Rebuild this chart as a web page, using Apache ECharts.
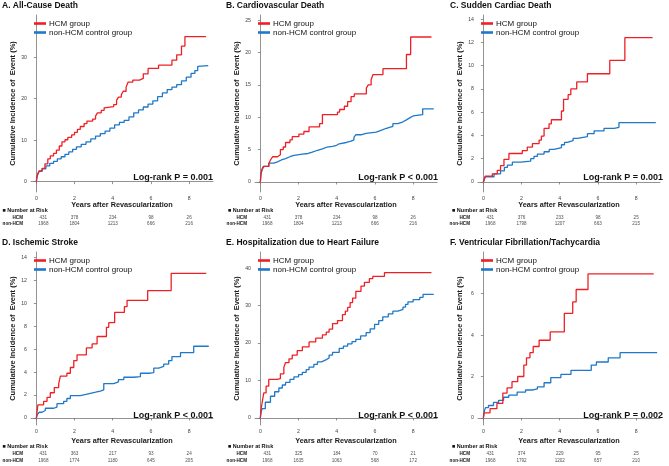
<!DOCTYPE html>
<html>
<head>
<meta charset="utf-8">
<script src="https://cdn.jsdelivr.net/npm/echarts@6/dist/echarts.min.js"></script>
<style>
html,body{margin:0;padding:0;background:#fff}
#main{width:669px;height:466px}
</style>
</head>
<body>
<div id="main"></div>
<script>
// cumulative incidence: [years, %] at each jump
var aHcm = [[0,0],[0.03,1.2],[0.08,2.0],[0.15,2.6],[0.3,3.2],[0.45,4.3],[0.6,5.5],[0.73,6.2],[0.9,6.8],[1.05,7.6],[1.2,8.6],[1.34,9.6],[1.5,10.1],[1.65,10.7],[1.85,11.3],[2.0,11.9],[2.15,12.6],[2.3,13.3],[2.5,14],[2.65,14.6],[2.95,15.1],[3.1,15.8],[3.2,16.6],[3.4,17.2],[3.55,17.8],[3.65,18.1],[4.05,18.6],[4.2,19.6],[4.3,20.4],[4.45,21],[4.55,21.8],[4.7,22.8],[4.8,24],[5.05,24.5],[5.4,24.9],[5.6,26],[5.85,27.3],[6.4,28.1],[7.1,29.3],[7.35,30.6],[7.6,32.7],[7.78,35],[8.88,35]];
var aCtl = [[0,0],[0.03,1],[0.08,1.8],[0.15,2.5],[0.3,3.1],[0.5,3.8],[0.7,4.4],[0.9,4.9],[1.1,5.5],[1.3,6],[1.5,6.6],[1.7,7.2],[1.9,7.8],[2.1,8.4],[2.35,9],[2.6,9.6],[2.85,10.3],[3.1,11],[3.35,11.6],[3.6,12.2],[3.85,12.9],[4.1,13.7],[4.35,14.3],[4.6,14.8],[4.85,15.6],[5.1,16.6],[5.35,17.3],[5.6,18],[5.85,18.7],[6.1,19.5],[6.35,20.5],[6.6,21.4],[6.85,22.2],[7.1,22.8],[7.35,23.4],[7.6,24.3],[7.85,25.2],[8.1,26.1],[8.3,26.8],[8.45,27.8],[8.55,28],[9.0,28]];
var bHcm = [[0,0],[0.03,1.2],[0.08,1.9],[0.15,2.4],[0.45,2.9],[0.55,3.5],[0.65,3.9],[0.9,4.2],[1.05,5.0],[1.2,5.4],[1.32,6.1],[1.55,6.5],[1.67,7.0],[2.02,7.4],[2.28,7.8],[2.55,8.5],[3.1,9.0],[3.25,10.4],[4.04,10.8],[4.15,11.2],[4.4,11.7],[4.57,12.4],[4.75,13.2],[4.92,13.6],[5.55,14.5],[5.65,15],[5.8,15.8],[5.9,16.6],[6.42,17.5],[7.65,19.7],[7.87,22.4],[8.96,22.4]];
var bCtl = [[0,0],[0.03,1.2],[0.1,2],[0.2,2.4],[0.44,2.9],[0.7,3.1],[0.9,3.4],[1.1,3.6],[1.32,3.9],[1.55,4.1],[1.76,4.3],[2.2,4.4],[2.5,4.6],[2.72,4.9],[3.0,5.1],[3.25,5.4],[3.5,5.5],[3.78,5.6],[3.95,5.9],[4.13,6.1],[4.5,6.3],[4.75,6.5],[4.9,6.9],[5.0,7.3],[5.3,7.5],[5.54,7.7],[6.07,8.0],[6.35,8.3],[6.6,8.6],[6.94,9.0],[7.2,9.3],[7.47,9.6],[7.65,9.9],[7.82,10.2],[8.0,10.4],[8.5,11.3],[9.08,11.3]];
var cHcm = [[0,0],[0.1,0.5],[0.47,0.7],[0.73,1.0],[0.9,1.4],[1.08,1.95],[1.34,2.45],[2.04,2.7],[2.3,3.0],[2.57,3.3],[2.92,3.6],[3.04,3.95],[3.18,4.6],[3.44,5.0],[3.56,5.35],[4.09,6.1],[4.2,7.1],[4.44,7.5],[4.58,8.0],[4.89,8.6],[5.45,9.3],[6.62,10.45],[7.41,12.4],[8.86,12.4]];
var cCtl = [[0,0],[0.1,0.45],[0.56,0.7],[0.9,0.95],[1.1,1.25],[1.26,1.45],[1.52,1.7],[1.96,1.8],[2.48,2.0],[2.65,2.2],[2.83,2.4],[3.18,2.6],[3.45,2.8],[3.7,2.95],[4.09,3.2],[4.25,3.4],[4.4,3.55],[4.7,3.75],[4.93,3.9],[5.45,4.15],[5.8,4.4],[6.32,4.6],[6.85,4.7],[7.1,5.1],[9.03,5.1]];
var dHcm = [[0,0],[0.08,1.15],[0.38,1.45],[0.56,1.8],[0.73,2.2],[0.94,2.65],[1.17,3.0],[1.26,3.65],[1.6,3.9],[1.78,4.4],[1.96,5.0],[2.13,5.5],[2.62,6.1],[2.92,6.45],[3.18,7.1],[3.67,7.9],[3.79,8.3],[4.1,9.2],[4.61,9.7],[4.75,10.25],[5.83,11.1],[7.06,12.6],[8.9,12.6]];
var dCtl = [[0,0],[0.05,0.3],[0.15,0.5],[0.3,0.65],[0.47,0.85],[0.91,0.95],[1.08,1.25],[1.43,1.45],[1.6,1.7],[1.78,1.95],[2.3,2.05],[2.6,2.15],[2.83,2.25],[3.1,2.35],[3.35,2.45],[3.53,3.0],[4.05,3.15],[4.3,3.35],[4.58,3.55],[5.1,3.6],[5.45,3.9],[5.97,3.95],[6.15,4.35],[6.41,4.5],[6.67,4.7],[6.93,5.0],[7.1,5.35],[7.55,5.7],[8.24,6.25],[9.03,6.25]];
var eHcm = [[0,0],[0.03,2],[0.09,4],[0.18,6.7],[0.3,8.5],[0.44,10.3],[0.88,10.5],[1.05,11.8],[1.23,13.5],[1.32,14.8],[1.5,15.8],[1.67,16.8],[1.93,18],[2.2,19],[2.55,20.3],[2.9,21.3],[3.25,22.2],[3.45,22.9],[3.6,23.7],[3.78,25.2],[4.04,26],[4.3,27.6],[4.45,28.5],[4.57,29.5],[4.7,30.8],[4.83,32],[5.0,33.8],[5.27,35.2],[5.45,36.2],[5.71,37.2],[5.89,37.8],[6.5,38.8],[8.96,38.8]];
var eCtl = [[0,0],[0.03,1.3],[0.09,2.5],[0.26,4.2],[0.53,5.8],[0.75,7],[0.97,8],[1.15,8.8],[1.32,9.5],[1.55,10.3],[1.76,11],[2.0,11.6],[2.2,12.2],[2.4,12.9],[2.55,13.6],[2.8,14.3],[2.99,15],[3.2,15.5],[3.43,16],[3.6,16.8],[3.78,17.5],[4.13,18.6],[4.35,19.2],[4.57,19.8],[4.8,20.4],[5.0,21],[5.25,21.9],[5.54,22.8],[5.75,23.8],[5.98,25],[6.2,26],[6.41,27],[6.7,27.8],[6.94,28.5],[7.2,29],[7.47,29.6],[7.6,30.3],[7.73,31],[8.0,31.6],[8.35,32.2],[8.52,33],[9.08,33]];
var fHcm = [[0,0],[0.04,0.25],[0.35,0.45],[0.71,0.7],[1.02,1.2],[1.24,1.45],[1.5,1.75],[1.8,2.0],[2.12,2.55],[2.26,2.9],[2.44,3.15],[2.61,3.45],[2.92,3.75],[3.5,4.15],[4.24,5.05],[4.68,5.6],[4.86,6.2],[5.48,6.95],[8.92,6.95]];
var fCtl = [[0,0],[0.03,0.2],[0.07,0.4],[0.12,0.5],[0.27,0.6],[0.53,0.75],[0.8,0.85],[1.06,1.0],[1.33,1.1],[1.77,1.25],[2.21,1.35],[2.6,1.4],[2.83,1.5],[3.18,1.7],[3.53,1.95],[4.06,2.1],[4.59,2.3],[5.65,2.55],[5.92,2.7],[6.54,2.9],[7.16,3.15],[9.1,3.15]];

// number at risk
var riskTimes = [0, 2, 4, 6, 8];
var aRiskHcm = [431, 378, 234, 98, 26], aRiskCtl = [1968, 1804, 1213, 666, 216];
var bRiskHcm = [431, 378, 234, 98, 26], bRiskCtl = [1968, 1804, 1213, 666, 216];
var cRiskHcm = [431, 376, 233, 98, 25], cRiskCtl = [1968, 1798, 1207, 663, 215];
var dRiskHcm = [431, 363, 217, 93, 24], dRiskCtl = [1968, 1774, 1180, 645, 205];
var eRiskHcm = [431, 325, 184, 70, 21], eRiskCtl = [1968, 1635, 1063, 568, 172];
var fRiskHcm = [431, 374, 229, 95, 25], fRiskCtl = [1968, 1792, 1202, 657, 210];

var xTicks = [0, 2, 4, 6, 8];
var yTicksA = [0, 10, 20, 30];
var yTicksB = [0, 5, 10, 15, 20, 25];
var yTicksC = [0, 2, 4, 6, 8, 10, 12, 14];
var yTicksD = [0, 2, 4, 6, 8, 10, 12, 14];
var yTicksE = [0, 10, 20, 30, 40];
var yTicksF = [0, 2, 4, 6];

var titles = ['A. All-Cause Death', 'B. Cardiovascular Death', 'C. Sudden Cardiac Death',
  'D. Ischemic Stroke', 'E. Hospitalization due to Heart Failure', 'F. Ventricular Fibrillation/Tachycardia'];
var pTexts = ['Log-rank P = 0.001', 'Log-rank P < 0.001', 'Log-rank P = 0.001',
  'Log-rank P < 0.001', 'Log-rank P < 0.001', 'Log-rank P = 0.002'];
var groupNames = ['HCM group', 'non-HCM control group'];
var rowNames = ['non-HCM', 'HCM'];

var panels = [
  {hcm: aHcm, ctl: aCtl, rH: aRiskHcm, rC: aRiskCtl, yt: yTicksA, yr: [-2.5, 40.2]},
  {hcm: bHcm, ctl: bCtl, rH: bRiskHcm, rC: bRiskCtl, yt: yTicksB, yr: [-1.55, 25.8]},
  {hcm: cHcm, ctl: cCtl, rH: cRiskHcm, rC: cRiskCtl, yt: yTicksC, yr: [-0.86, 14.35]},
  {hcm: dHcm, ctl: dCtl, rH: dRiskHcm, rC: dRiskCtl, yt: yTicksD, yr: [-0.61, 14.46]},
  {hcm: eHcm, ctl: eCtl, rH: eRiskHcm, rC: eRiskCtl, yt: yTicksE, yr: [-1.87, 44.3]},
  {hcm: fHcm, ctl: fCtl, rH: fRiskHcm, rC: fRiskCtl, yt: yTicksF, yr: [-0.34, 8.01]}
];

var FONT = 'Liberation Sans, Arial, sans-serif';
var RED = '#ee2026', BLUE = '#1f78c8';
var colLeft = [31, 255, 478], gridW = 182;
var rowTop = [15, 252], rowBottom = [192, 425];
var tblTop = [214.3, 450.4], tblH = [12, 13.2];
var nameGapX = [8, 12];

var grid = [], xAxis = [], yAxis = [], series = [], title = [], legend = [];

panels.forEach(function (p, k) {
  var col = k % 3, row = Math.floor(k / 3);
  var L = colLeft[col];
  var gi = grid.length;
  grid.push({left: L, top: rowTop[row], width: gridW, height: rowBottom[row] - rowTop[row], outerBoundsMode: 'none'});
  xAxis.push({
    gridIndex: gi, type: 'value', min: -0.28, max: 9.25,
    name: 'Years after Revascularization', nameLocation: 'middle', nameGap: nameGapX[row],
    nameTextStyle: {fontFamily: FONT, fontSize: 7.3, fontWeight: 'bold', color: '#1a1a1a'},
    axisLine: {lineStyle: {color: '#777', width: 0.8}},
    axisTick: {customValues: xTicks, length: 2.5, lineStyle: {color: '#777', width: 0.8}},
    axisLabel: {customValues: xTicks, fontFamily: FONT, fontSize: 5.2, color: '#444', margin: 4},
    splitLine: {show: false}
  });
  yAxis.push({
    gridIndex: gi, type: 'value', min: p.yr[0], max: p.yr[1],
    name: 'Cumulative Incidence of  Event (%)', nameLocation: 'middle', nameGap: 14,
    nameTextStyle: {fontFamily: FONT, fontSize: 7.5, fontWeight: 'bold', color: '#1a1a1a'},
    axisLine: {show: true, lineStyle: {color: '#777', width: 0.8}},
    axisTick: {show: true, customValues: p.yt, length: 2.5, lineStyle: {color: '#777', width: 0.8}},
    axisLabel: {customValues: p.yt, fontFamily: FONT, fontSize: 5.2, color: '#444', margin: 4},
    splitLine: {show: false}
  });
  series.push({
    name: groupNames[0], type: 'line', step: 'end', xAxisIndex: gi, yAxisIndex: gi,
    data: p.hcm, showSymbol: false, lineStyle: {color: RED, width: 1.3}, itemStyle: {color: RED}, z: 3
  });
  series.push({
    name: groupNames[1], type: 'line', step: 'end', xAxisIndex: gi, yAxisIndex: gi,
    data: p.ctl, showSymbol: false, lineStyle: {color: BLUE, width: 1.3}, itemStyle: {color: BLUE}, z: 2
  });
  legend.push({
    data: groupNames, orient: 'vertical', left: L + 3, top: rowTop[row] + 4.5,
    icon: 'rect', itemWidth: 12, itemHeight: 2.6, itemGap: 1, padding: 0, itemStyle: {borderWidth: 0},
    textStyle: {fontFamily: FONT, fontSize: 8, color: '#111', padding: [0, 0, 0, -2]},
    selectedMode: false
  });

  // risk table grid
  var ti = grid.length;
  grid.push({left: L, top: tblTop[row], width: gridW, height: tblH[row], outerBoundsMode: 'none'});
  xAxis.push({gridIndex: ti, type: 'value', min: -0.28, max: 9.25, show: false});
  yAxis.push({
    gridIndex: ti, type: 'category', data: rowNames,
    axisLine: {show: false}, axisTick: {show: false},
    axisLabel: {interval: 0, fontFamily: FONT, fontSize: 4.6, fontWeight: 'bold', color: '#111', margin: 8}
  });
  var pts = [];
  riskTimes.forEach(function (t, i) {
    var off = i === 0 ? [7, 0] : [0, 0];
    pts.push({value: [t, 'HCM', p.rH[i]], label: {offset: off}});
    pts.push({value: [t, 'non-HCM', p.rC[i]], label: {offset: off}});
  });
  series.push({
    type: 'scatter', xAxisIndex: ti, yAxisIndex: ti, symbolSize: 0, data: pts, silent: true,
    label: {show: true, position: 'inside', fontFamily: FONT, fontSize: 4.6, color: '#222',
      formatter: function (q) { return q.value[2]; }}
  });

  title.push({
    text: titles[k], left: [2, 226, 450][col], top: [1, 238][row], padding: 0,
    textStyle: {fontFamily: FONT, fontSize: 8.5, fontWeight: 'bold', color: '#111'}
  });
  title.push({
    text: '\u25A0 Number at Risk', left: [2.5, 228, 452][col], top: [207.3, 443][row], padding: 0,
    textStyle: {fontFamily: FONT, fontSize: 5.5, fontWeight: 'bold', color: '#111'}
  });
  title.push({
    text: pTexts[k], right: 669 - [213, 438, 663][col], top: [173, 410.7][row], padding: 0,
    textStyle: {fontFamily: FONT, fontSize: 9, fontWeight: 'bold', color: '#111'}
  });
});

var myChart = echarts.init(document.getElementById('main'));
myChart.setOption({
  animation: false,
  title: title,
  legend: legend,
  grid: grid,
  xAxis: xAxis,
  yAxis: yAxis,
  series: series
});
</script>
</body>
</html>
